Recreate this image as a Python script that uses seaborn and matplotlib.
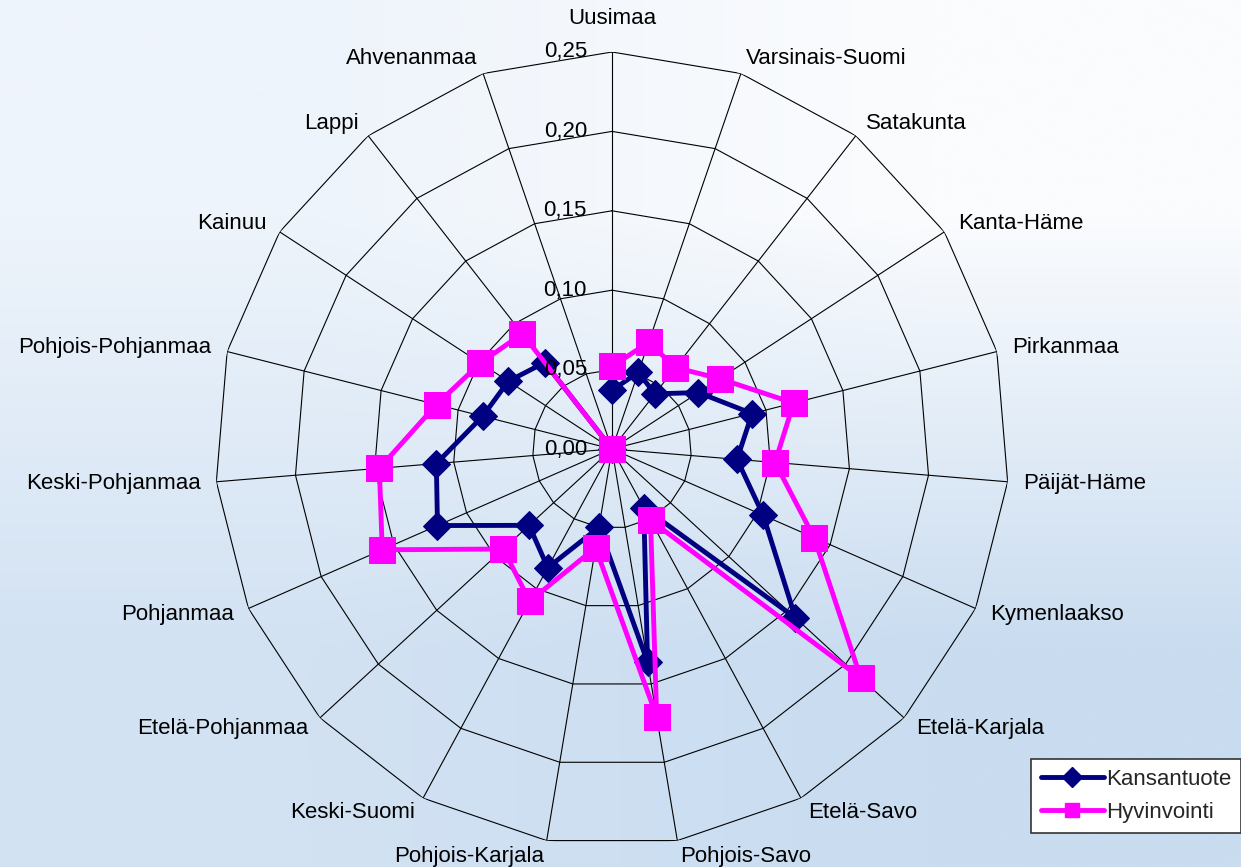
import numpy as np
import pandas as pd
import matplotlib
matplotlib.use('Agg')
from matplotlib import pyplot as plt
from matplotlib.colors import to_rgb
from matplotlib.lines import Line2D
import seaborn as sns

regions = ['Uusimaa', 'Varsinais-Suomi', 'Satakunta', 'Kanta-Häme', 'Pirkanmaa',
           'Päijät-Häme', 'Kymenlaakso', 'Etelä-Karjala', 'Etelä-Savo',
           'Pohjois-Savo', 'Pohjois-Karjala', 'Keski-Suomi', 'Etelä-Pohjanmaa',
           'Pohjanmaa', 'Keski-Pohjanmaa', 'Pohjois-Pohjanmaa', 'Kainuu', 'Lappi',
           'Ahvenanmaa']
kansantuote = [0.037, 0.051, 0.044, 0.065, 0.091, 0.079, 0.104, 0.157, 0.042,
               0.136, 0.050, 0.085, 0.071, 0.120, 0.111, 0.084, 0.078, 0.069, 0.0]
hyvinvointi = [0.052, 0.071, 0.065, 0.081, 0.118, 0.103, 0.139, 0.213, 0.051,
               0.171, 0.063, 0.109, 0.093, 0.158, 0.147, 0.114, 0.099, 0.092, 0.0]
ticks = [0.00, 0.05, 0.10, 0.15, 0.20, 0.25]

NAVY = '#000080'
MAGENTA = '#FF00FF'


def main():
    sns.set_theme(style='white')
    plt.rcParams['font.family'] = ['Liberation Sans', 'DejaVu Sans']

    W, H = 1241, 867
    fig = plt.figure(figsize=(W / 100, H / 100), dpi=100)

    # soft blue background gradient
    bg = fig.add_axes([0, 0, 1, 1], zorder=-1)
    corners = np.array([[to_rgb('#eef4fb'), to_rgb('#fbfcfe')],
                        [to_rgb('#d2e2f3'), to_rgb('#c9dcf0')]])
    bg.imshow(corners, interpolation='bilinear', aspect='auto',
              extent=[0, 1, 0, 1])
    bg.set_axis_off()

    cx, cy, R = 612, 449, 397
    ax = fig.add_axes([(cx - R) / W, (H - cy - R) / H, 2 * R / W, 2 * R / H],
                      projection='polar')
    ax.set_theta_zero_location('N')
    ax.set_theta_direction(-1)
    ax.patch.set_alpha(0)
    ax.grid(False)
    ax.spines['polar'].set_visible(False)

    n = len(regions)
    theta = np.linspace(0, 2 * np.pi, n, endpoint=False)
    closed = np.append(theta, theta[0])

    # polygon grid and spokes
    for v in ticks[1:]:
        ax.plot(closed, [v] * (n + 1), color='black', lw=0.8, zorder=1)
    for t in theta:
        ax.plot([t, t], [0, ticks[-1]], color='black', lw=0.8, zorder=1)

    df = pd.DataFrame({
        'theta': np.concatenate([closed, closed]),
        'value': kansantuote + kansantuote[:1] + hyvinvointi + hyvinvointi[:1],
        'series': ['Kansantuote'] * (n + 1) + ['Hyvinvointi'] * (n + 1),
    })

    sns.lineplot(data=df[df.series == 'Kansantuote'], x='theta', y='value',
                 sort=False, ax=ax, color=NAVY, lw=3.5, marker='D', markersize=14,
                 markeredgecolor=NAVY, zorder=3, clip_on=False)
    sns.lineplot(data=df[df.series == 'Hyvinvointi'], x='theta', y='value',
                 sort=False, ax=ax, color=MAGENTA, lw=3.5, marker='s', markersize=19,
                 markeredgecolor=MAGENTA, zorder=4, clip_on=False)

    ax.set_ylim(0, 0.25)
    ax.set_xticks([])
    ax.set_yticks([])
    ax.set_xlabel('')
    ax.set_ylabel('')

    for v in ticks:
        ax.annotate(f'{v:.2f}'.replace('.', ','), xy=(0, v), xytext=(-25, 0),
                    textcoords='offset pixels', ha='right', va='center',
                    fontsize=16, color='black', zorder=5)

    for t, name in zip(theta, regions):
        s, c = np.sin(t), np.cos(t)
        if s > 0.05:
            ha = 'left'
        elif s < -0.05:
            ha = 'right'
        else:
            ha = 'center'
        d = 34 if ha == 'center' and c > 0 else 16
        ax.annotate(name, xy=(t, 0.25), xytext=(d * s, d * c),
                    textcoords='offset pixels', ha=ha, va='center',
                    fontsize=16, color='black', annotation_clip=False)

    handles = [Line2D([], [], color=NAVY, lw=3.5, marker='D', markersize=10),
               Line2D([], [], color=MAGENTA, lw=3.5, marker='s', markersize=10)]
    leg = fig.legend(handles, ['Kansantuote', 'Hyvinvointi'],
                     loc='upper right', bbox_to_anchor=(1.0, 1 - 759 / H),
                     borderaxespad=0, fontsize=16, frameon=True, fancybox=False,
                     handlelength=2.8, handletextpad=0.1, labelspacing=0.55,
                     borderpad=0.45)
    leg.get_frame().set_edgecolor('#333333')
    leg.get_frame().set_linewidth(1.2)
    leg.get_frame().set_facecolor('white')
    leg.get_frame().set_alpha(1)

    fig.savefig('out.png', dpi=100)
    plt.close(fig)


if __name__ == "__main__":
    main()
